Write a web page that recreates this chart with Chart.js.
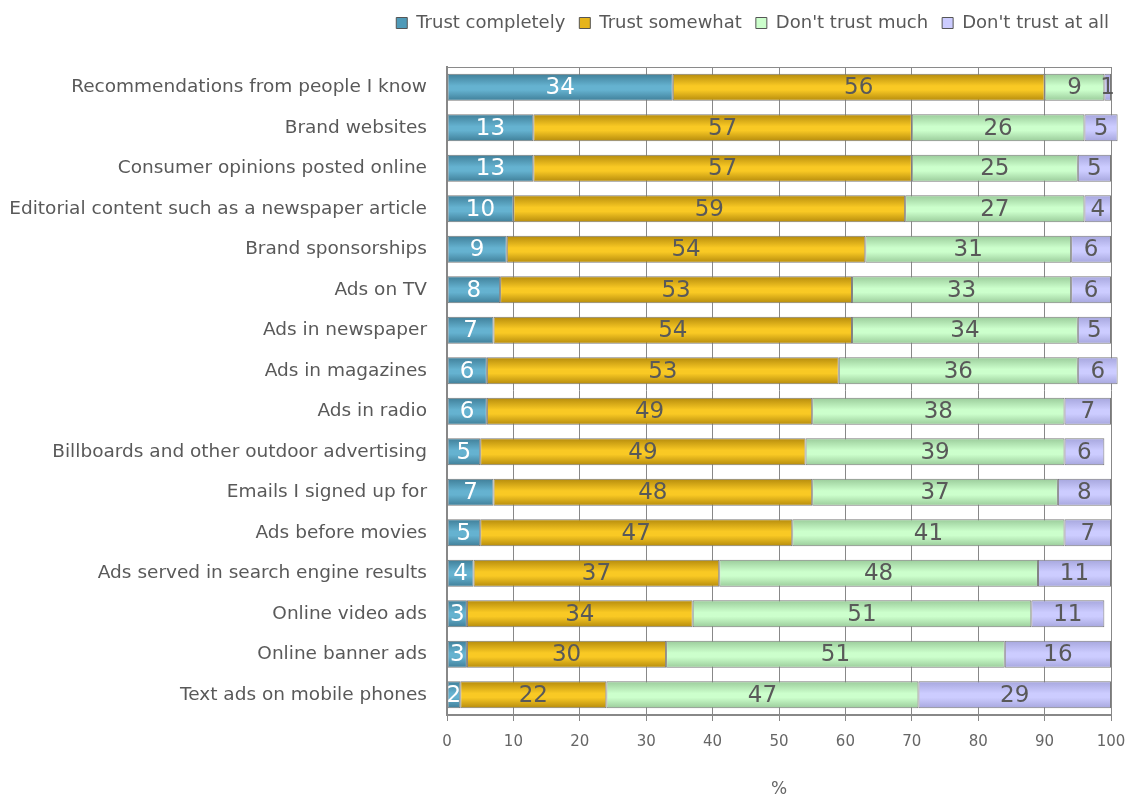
<!DOCTYPE html>
<html>
<head>
<meta charset="utf-8">
<script src="https://cdn.jsdelivr.net/npm/chart.js@4.4.1/dist/chart.umd.min.js"></script>
<style>
  html, body { margin: 0; padding: 0; background: #fff; }
  #wrap { width: 1131px; height: 798px; }
</style>
</head>
<body>
<div id="wrap"><canvas id="chart-confiance" width="1131" height="798"></canvas></div>
<script>
// donnees du graphique (en %)
const categories = [
  'Recommendations from people I know',
  'Brand websites',
  'Consumer opinions posted online',
  'Editorial content such as a newspaper article',
  'Brand sponsorships',
  'Ads on TV',
  'Ads in newspaper',
  'Ads in magazines',
  'Ads in radio',
  'Billboards and other outdoor advertising',
  'Emails I signed up for',
  'Ads before movies',
  'Ads served in search engine results',
  'Online video ads',
  'Online banner ads',
  'Text ads on mobile phones'
];
const trustCompletely = [34, 13, 13, 10, 9, 8, 7, 6, 6, 5, 7, 5, 4, 3, 3, 2];
const trustSomewhat   = [56, 57, 57, 59, 54, 53, 54, 53, 49, 49, 48, 47, 37, 34, 30, 22];
const dontTrustMuch   = [9, 26, 25, 27, 31, 33, 34, 36, 38, 39, 37, 41, 48, 51, 51, 47];
const dontTrustAtAll  = [1, 5, 5, 4, 6, 6, 5, 6, 7, 6, 8, 7, 11, 11, 16, 29];
const xTicks = [0, 10, 20, 30, 40, 50, 60, 70, 80, 90, 100];

const seriesNames = ['Trust completely', 'Trust somewhat', "Don't trust much", "Don't trust at all"];

// couleurs : bord sombre / centre clair (effet degrade)
const couleurs = [
  { edge: '#3f7e98', mid: '#65b2d0', flat: '#4f9ab8', label: '#ffffff' },
  { edge: '#b48a0c', mid: '#f9c924', flat: '#e6b41a', label: '#595959' },
  { edge: '#9acb9a', mid: '#ccffcc', flat: '#ccffcc', label: '#595959' },
  { edge: '#a6a6dd', mid: '#ccccff', flat: '#ccccff', label: '#595959' }
];

const police = '"DejaVu Sans", sans-serif';
const gris = '#595959';
const BAR_RATIO = 0.67;

// degrade vertical par barre
function degrade(i) {
  return ctx => {
    const c = couleurs[i];
    const chart = ctx.chart;
    const y = chart.scales && chart.scales.y;
    if (ctx.type !== 'data' || !y || !chart.chartArea) return c.flat;
    const centre = y.getPixelForValue(ctx.dataIndex);
    const demi = Math.abs(y.getPixelForValue(1) - y.getPixelForValue(0)) * BAR_RATIO / 2;
    const g = chart.ctx.createLinearGradient(0, centre - demi, 0, centre + demi);
    g.addColorStop(0, c.edge);
    g.addColorStop(0.45, c.mid);
    g.addColorStop(0.6, c.mid);
    g.addColorStop(1, c.edge);
    return g;
  };
}

const valeurs = [trustCompletely, trustSomewhat, dontTrustMuch, dontTrustAtAll];

// plugin : etiquettes dans les barres
const etiquettes = {
  id: 'etiquettes',
  afterDatasetsDraw(chart) {
    const ctx = chart.ctx;
    ctx.save();
    ctx.font = '23px ' + police;
    ctx.textAlign = 'center';
    ctx.textBaseline = 'middle';
    chart.data.datasets.forEach((ds, i) => {
      const meta = chart.getDatasetMeta(i);
      meta.data.forEach((bar, j) => {
        ctx.fillStyle = couleurs[i].label;
        ctx.fillText(ds.data[j], (bar.x + bar.base) / 2, bar.y + 1);
      });
    });
    ctx.restore();
  }
};

// plugin : ligne en haut de la zone du graphique
const ligneHaut = {
  id: 'ligneHaut',
  beforeDatasetsDraw(chart) {
    const a = chart.chartArea;
    const ctx = chart.ctx;
    ctx.save();
    ctx.strokeStyle = '#8a8a8a';
    ctx.lineWidth = 1;
    ctx.beginPath();
    ctx.moveTo(a.left, a.top + 0.5);
    ctx.lineTo(a.right, a.top + 0.5);
    ctx.stroke();
    ctx.restore();
  }
};

// plugin : hauteur fixe de la legende + petit decalage a droite
const hauteurLegende = {
  id: 'hauteurLegende',
  beforeInit(chart) {
    const fit = chart.legend.fit;
    chart.legend.fit = function () {
      fit.bind(chart.legend)();
      this.height = 67;
    };
  },
  afterLayout(chart) {
    chart.legend.left += 12;
    chart.legend.right += 12;
  }
};

const canvas = document.getElementById('chart-confiance');

new Chart(canvas, {
  type: 'bar',
  data: {
    labels: categories,
    datasets: valeurs.map((v, i) => ({
      label: seriesNames[i],
      data: v,
      backgroundColor: degrade(i),
      borderColor: '#7a7a7a',
      borderWidth: 1,
      borderSkipped: false,
      categoryPercentage: 1,
      barPercentage: BAR_RATIO,
      clip: false
    }))
  },
  options: {
    indexAxis: 'y',
    responsive: false,
    animation: false,
    layout: { padding: { left: 0, right: 20, top: 0, bottom: 0 } },
    scales: {
      x: {
        stacked: true,
        min: 0,
        max: 100,
        afterBuildTicks: axis => { axis.ticks = xTicks.map(v => ({ value: v })); },
        afterFit: axis => {
          axis.height = 83;
          axis.paddingRight = 0;
          axis.paddingLeft = 0;
        },
        grid: { color: '#888', lineWidth: 1, tickLength: 6, drawTicks: true },
        border: { display: true, color: '#888', width: 2 },
        ticks: { color: '#666', font: { family: police, size: 15 }, padding: 12 },
        title: {
          display: true,
          text: '%',
          color: '#666',
          font: { family: police, size: 17, lineHeight: 1 },
          padding: { top: 0, bottom: 0 }
        }
      },
      y: {
        stacked: true,
        afterFit: axis => { axis.width = 447; },
        grid: { display: false, drawTicks: false },
        border: { display: true, color: '#888', width: 2 },
        ticks: { color: gris, font: { family: police, size: 18.5 }, padding: 20 }
      }
    },
    plugins: {
      legend: {
        position: 'top',
        align: 'end',
        labels: {
          boxWidth: 11,
          boxHeight: 11,
          padding: 14,
          color: gris,
          font: { family: police, size: 18 },
          generateLabels: chart => chart.data.datasets.map((ds, i) => ({
            text: ds.label,
            fillStyle: couleurs[i].flat,
            strokeStyle: '#555',
            lineWidth: 1,
            fontColor: gris,
            datasetIndex: i,
            hidden: false
          }))
        }
      },
      tooltip: { enabled: false }
    }
  },
  plugins: [hauteurLegende, ligneHaut, etiquettes]
});
</script>
</body>
</html>
